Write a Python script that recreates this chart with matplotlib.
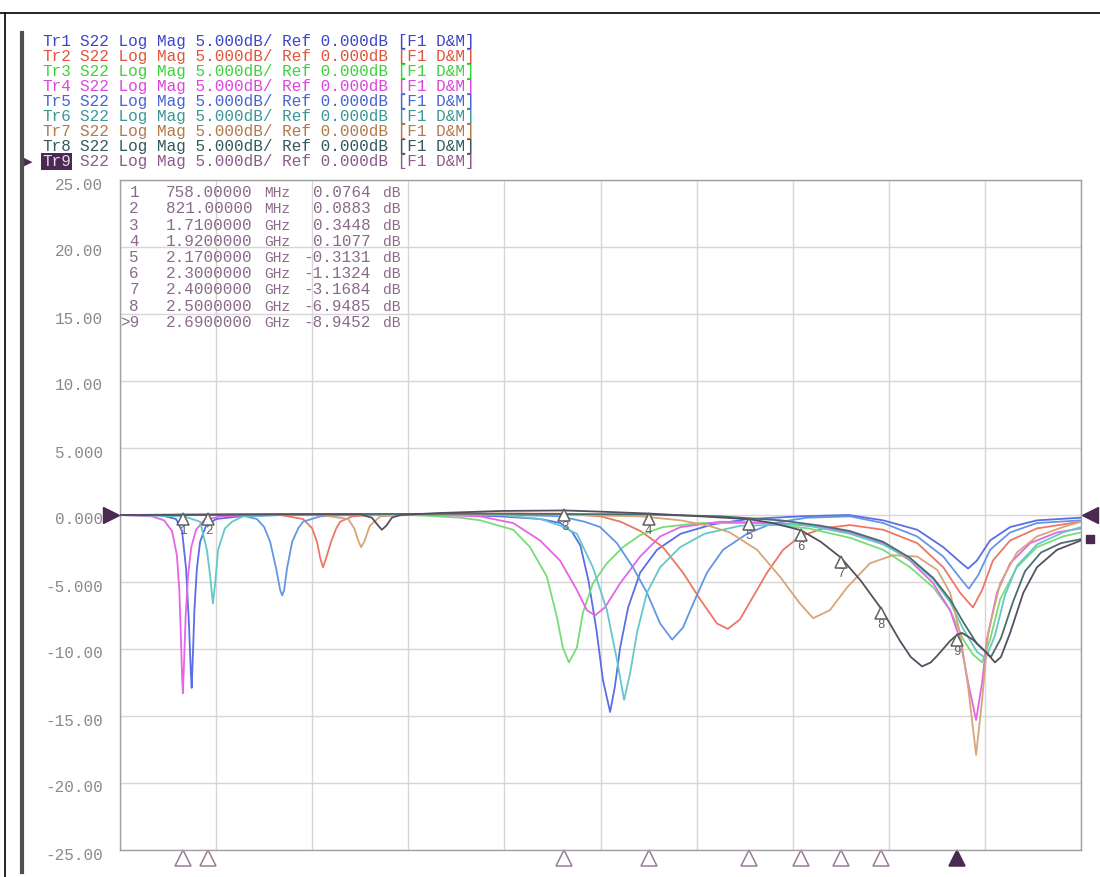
import matplotlib
matplotlib.use("Agg")
import matplotlib.pyplot as plt
import matplotlib.transforms as mtransforms
from matplotlib.lines import Line2D

W, H = 1100, 877

# ---- data (GHz, dB) ----
tr1 = [(0.60, 0.0), (0.70, 0.0), (0.74, -0.3), (0.755, -1.2), (0.765, -4.0), (0.772, -8.0),
       (0.777, -11.8), (0.779, -12.9), (0.782, -10.5), (0.786, -7.0), (0.792, -4.0), (0.80, -2.0),
       (0.815, -0.8), (0.84, -0.3), (0.90, -0.1), (1.0, 0.0), (1.2, 0.05), (1.4, 0.05), (1.55, -0.1),
       (1.65, -0.3), (1.70, -0.6), (1.73, -1.3), (1.75, -2.3), (1.77, -4.9), (1.79, -8.6),
       (1.806, -12.3), (1.824, -14.7), (1.836, -12.8), (1.849, -9.9), (1.869, -6.9), (1.899, -4.3),
       (1.941, -2.6), (2.0, -1.4), (2.08, -0.7), (2.17, -0.3), (2.3, -0.1), (2.42, 0.0),
       (2.506, -0.4), (2.591, -1.1), (2.656, -2.4), (2.698, -3.5), (2.718, -4.0), (2.740, -3.4),
       (2.773, -1.9), (2.823, -0.9), (2.89, -0.4), (3.0, -0.2)]

tr2 = [(0.60, 0.0), (1.0, 0.0), (1.057, -0.3), (1.08, -1.0), (1.092, -2.0), (1.100, -3.2),
       (1.107, -3.9), (1.115, -3.2), (1.127, -2.0), (1.14, -1.0), (1.15, -0.5), (1.18, -0.1),
       (1.25, 0.05), (1.5, 0.1), (1.7, 0.1), (1.80, -0.1), (1.85, -0.5), (1.90, -1.2), (1.956, -2.4),
       (2.006, -4.3), (2.049, -6.3), (2.091, -8.1), (2.118, -8.5), (2.148, -7.8), (2.181, -6.1),
       (2.216, -4.3), (2.256, -2.6), (2.298, -1.6), (2.356, -1.0), (2.423, -0.75), (2.506, -1.1),
       (2.591, -2.1), (2.656, -3.9), (2.698, -5.8), (2.730, -6.9), (2.753, -5.6), (2.780, -3.4),
       (2.823, -1.9), (2.89, -1.0), (3.0, -0.5)]

tr3 = [(0.60, 0.0), (1.0, 0.05), (1.3, 0.05), (1.45, -0.2), (1.50, -0.4), (1.582, -1.1),
       (1.624, -2.4), (1.666, -4.6), (1.691, -7.6), (1.706, -9.9), (1.721, -11.0), (1.741, -9.9),
       (1.756, -7.3), (1.781, -5.1), (1.816, -3.6), (1.856, -2.4), (1.899, -1.5), (1.956, -0.9),
       (2.05, -0.6), (2.2, -0.6), (2.32, -1.0), (2.423, -1.7), (2.506, -2.6), (2.573, -3.9),
       (2.631, -5.4), (2.673, -7.1), (2.706, -9.3), (2.730, -10.4), (2.753, -11.0), (2.773, -9.3),
       (2.798, -6.3), (2.840, -3.9), (2.890, -2.4), (2.955, -1.6), (3.0, -1.3)]

tr4 = [(0.60, 0.0), (0.68, -0.1), (0.71, -0.4), (0.73, -1.2), (0.742, -3.0), (0.748, -5.5),
       (0.752, -9.0), (0.755, -12.0), (0.757, -13.3), (0.760, -11.0), (0.764, -7.5), (0.770, -4.5),
       (0.778, -2.4), (0.79, -1.1), (0.81, -0.4), (0.85, -0.1), (0.95, 0.0), (1.2, 0.05), (1.4, 0.0),
       (1.499, -0.1), (1.582, -0.6), (1.649, -1.9), (1.699, -3.4), (1.741, -5.6), (1.766, -7.1),
       (1.786, -7.5), (1.811, -6.9), (1.849, -5.1), (1.899, -3.1), (1.949, -1.6), (2.0, -0.9),
       (2.1, -0.5), (2.25, -0.6), (2.35, -0.9), (2.423, -1.3), (2.506, -2.1), (2.573, -3.4),
       (2.631, -5.1), (2.673, -7.1), (2.698, -9.3), (2.718, -12.5), (2.738, -15.3), (2.753, -12.5),
       (2.765, -9.3), (2.790, -5.8), (2.823, -3.6), (2.873, -2.1), (2.94, -1.3), (3.0, -1.0)]

tr5 = [(0.60, 0.0), (0.90, 0.0), (0.942, -0.3), (0.96, -0.9), (0.975, -2.0), (0.99, -4.0),
       (1.0, -5.6), (1.005, -6.0), (1.010, -5.6), (1.017, -4.0), (1.03, -2.0), (1.045, -1.0),
       (1.057, -0.5), (1.10, -0.1), (1.2, 0.05), (1.5, 0.1), (1.7, -0.1), (1.76, -0.5), (1.799, -0.9),
       (1.841, -2.1), (1.881, -3.9), (1.916, -5.8), (1.949, -8.1), (1.979, -9.3), (2.006, -8.4),
       (2.036, -6.3), (2.066, -4.3), (2.106, -2.6), (2.166, -1.4), (2.231, -0.6), (2.316, -0.2),
       (2.423, -0.1), (2.506, -0.6), (2.591, -1.6), (2.656, -3.1), (2.698, -4.7), (2.720, -5.5),
       (2.743, -4.5), (2.773, -2.6), (2.823, -1.3), (2.89, -0.6), (3.0, -0.4)]

tr6 = [(0.60, 0.0), (0.76, -0.1), (0.80, -0.5), (0.817, -2.6), (0.825, -4.5), (0.832, -6.6),
       (0.838, -5.0), (0.845, -2.6), (0.862, -1.0), (0.88, -0.5), (0.907, -0.1), (1.0, 0.0),
       (1.3, 0.05), (1.55, 0.0), (1.65, -0.3), (1.70, -0.8), (1.741, -1.4), (1.781, -3.9),
       (1.816, -7.1), (1.841, -10.8), (1.859, -13.8), (1.874, -11.8), (1.891, -8.8), (1.916, -5.8),
       (1.949, -3.9), (1.999, -2.4), (2.06, -1.4), (2.15, -0.8), (2.30, -0.7), (2.423, -1.4),
       (2.506, -2.2), (2.573, -3.3), (2.631, -4.8), (2.673, -6.5), (2.706, -8.5), (2.740, -10.2),
       (2.762, -10.7), (2.785, -9.0), (2.81, -6.0), (2.84, -3.8), (2.89, -2.2), (2.955, -1.3),
       (3.0, -0.9)]

tr7 = [(0.60, 0.0), (1.1, 0.0), (1.17, -0.3), (1.185, -1.0), (1.195, -1.9), (1.202, -2.4),
       (1.21, -2.0), (1.224, -0.8), (1.25, -0.1), (1.35, 0.05), (1.6, 0.1), (1.9, -0.1), (2.0, -0.4),
       (2.07, -0.8), (2.123, -1.3), (2.191, -2.6), (2.248, -4.6), (2.298, -6.6), (2.331, -7.7),
       (2.373, -7.1), (2.416, -5.4), (2.473, -3.6), (2.531, -3.0), (2.591, -3.1), (2.641, -4.1),
       (2.673, -5.8), (2.698, -8.8), (2.718, -12.8), (2.738, -17.9), (2.753, -13.8), (2.768, -8.8),
       (2.798, -5.1), (2.840, -2.8), (2.890, -1.6), (2.955, -0.9), (3.0, -0.5)]

tr8 = [(0.60, 0.0), (1.0, 0.05), (1.5, 0.1), (1.9, 0.05), (2.1, -0.1), (2.25, -0.4), (2.35, -0.8),
       (2.423, -1.2), (2.506, -2.0), (2.573, -3.2), (2.631, -4.7), (2.673, -6.3), (2.706, -8.0),
       (2.74, -9.6), (2.775, -10.6), (2.80, -9.2), (2.83, -6.5), (2.86, -4.2), (2.90, -2.8),
       (2.95, -2.1), (3.0, -1.8)]

tr9 = [(0.60, 0.0), (1.0, 0.05), (1.20, 0.05), (1.229, -0.2), (1.245, -0.8), (1.254, -1.1),
       (1.265, -0.8), (1.279, -0.2), (1.30, 0.0), (1.40, 0.15), (1.55, 0.3), (1.71, 0.34),
       (1.80, 0.25), (1.92, 0.11), (2.05, -0.1), (2.17, -0.31), (2.23, -0.6), (2.30, -1.13),
       (2.35, -2.0), (2.40, -3.17), (2.45, -4.9), (2.50, -6.95), (2.548, -9.4), (2.575, -10.6),
       (2.603, -11.3), (2.625, -11.0), (2.641, -10.5), (2.673, -9.4), (2.69, -8.95), (2.703, -8.8),
       (2.730, -9.3), (2.765, -10.3), (2.785, -11.0), (2.80, -10.6), (2.823, -8.8), (2.856, -5.8),
       (2.890, -3.9), (2.94, -2.6), (3.0, -1.9)]

traces = [tr1, tr2, tr3, tr4, tr5, tr6, tr7, tr8, tr9]
trace_names = ["Tr1", "Tr2", "Tr3", "Tr4", "Tr5", "Tr6", "Tr7", "Tr8", "Tr9"]
header_rest = "S22 Log Mag 5.000dB/ Ref 0.000dB [F1 D&M]"
legend_colors = ["#3c46c8", "#e0553c", "#3cd23c", "#dc46dc", "#4664d2",
                 "#3c9696", "#b4784a", "#325a5a", "#8c5a8c"]
line_colors = ["#5a6ee6", "#ec7864", "#78dc78", "#e664e6", "#6496e6",
               "#64c8c8", "#d7a578", "#4a6e6e", "#555060"]

marker_freqs = [0.758, 0.821, 1.71, 1.92, 2.17, 2.30, 2.40, 2.50, 2.69]
marker_vals = [0.0764, 0.0883, 0.3448, 0.1077, -0.3131, -1.1324, -3.1684, -6.9485, -8.9452]

y_ticks = [25, 20, 15, 10, 5, 0, -5, -10, -15, -20, -25]
y_tick_labels = ["25.00", "20.00", "15.00", "10.00", "5.000", "0.000",
                 "-5.000", "-10.00", "-15.00", "-20.00", "-25.00"]
x_grid = [0.60, 0.84, 1.08, 1.32, 1.56, 1.80, 2.04, 2.28, 2.52, 2.76, 3.00]
f_start, f_stop = 0.6, 3.0

MONO = ["Liberation Mono", "DejaVu Sans Mono", "DejaVu Sans"]
FS = 11.5
CHAR_W = 0.6 * FS * 100 / 72   # px per monospace character


def fx(x):
    return x / W


def fy(y):
    return 1 - y / H


fig = plt.figure(figsize=(W / 100, H / 100), dpi=100)
fig.patch.set_facecolor("white")

# outer frame of the screenshot
fig.add_artist(Line2D([0, 1], [fy(13), fy(13)], color="black", lw=1.2))
fig.add_artist(Line2D([fx(5), fx(5)], [fy(13), 0], color="black", lw=1.2))
fig.add_artist(Line2D([fx(22), fx(22)], [fy(33), fy(872)], color="#505050", lw=3))

ax = fig.add_axes([fx(120), fy(850), fx(1081) - fx(120), fy(180) - fy(850)])
ax.set_xlim(f_start, f_stop)
ax.set_ylim(-25, 25)
ax.set_xticks(x_grid)
ax.set_yticks(y_ticks)
ax.grid(True, color="#d6d6d6", lw=1.0)
ax.tick_params(length=0, labelbottom=False, labelleft=False)
for s in ax.spines.values():
    s.set_color("#a0a0a0")
    s.set_linewidth(1.0)

for tr, col in zip(traces, line_colors):
    ax.plot([p[0] for p in tr], [p[1] for p in tr], color=col, lw=1.3, zorder=3)

# y labels, sitting a little under their grid line
ylab_tr = mtransforms.blended_transform_factory(ax.transAxes, ax.transData)
ylab_tr = ylab_tr + mtransforms.ScaledTranslation(0, -5 / 100, fig.dpi_scale_trans)
for v, lab in zip(y_ticks, y_tick_labels):
    ax.text(-0.018, v, lab, transform=ylab_tr, ha="right", va="center",
            fontsize=FS, color="#8a8a8a", family=MONO, clip_on=False)

# markers on the active trace
tip = ax.transData + mtransforms.ScaledTranslation(0, -5 / 100, fig.dpi_scale_trans)
num = ax.transData + mtransforms.ScaledTranslation(0, -17 / 100, fig.dpi_scale_trans)
for i, (f, v) in enumerate(zip(marker_freqs, marker_vals)):
    ax.plot(f, v, marker="^", ms=9, mfc="white", mec="#606060", mew=1.1,
            transform=tip, zorder=5)
    ax.text(f, v, str(i + 1), transform=num, ha="center", va="center",
            fontsize=9, color="#606060", family=MONO, zorder=5)

# stimulus markers below the grid
bot = mtransforms.blended_transform_factory(ax.transData, ax.transAxes)
for i, f in enumerate(marker_freqs):
    active = i == len(marker_freqs) - 1
    ax.plot(f, -0.012, marker="^", ms=11, mfc="#4a2a50" if active else "white",
            mec="#4a2a50" if active else "#9a7a9a", mew=1.1, transform=bot, clip_on=False)

# reference position arrows
side = mtransforms.blended_transform_factory(ax.transAxes, ax.transData)
ax.plot(-0.009, 0, marker=">", ms=12, color="#4a2a50", transform=side, clip_on=False)
ax.plot(1.009, 0, marker="<", ms=12, color="#4a2a50", transform=side, clip_on=False)
ax.plot(1.009, -1.8, marker="s", ms=6, color="#4a2a50", transform=side, clip_on=False)

# trace header lines (baseline aligned so name and rest share one line)
for i, (name, col) in enumerate(zip(trace_names, legend_colors)):
    yb = 46 + 15 * i
    active = i == len(trace_names) - 1
    if active:
        fig.text(fx(42), fy(yb), name, color="#e8d8e8", fontsize=FS, family=MONO,
                 va="baseline", ha="left",
                 bbox=dict(boxstyle="square,pad=0.08", fc="#4a2a55", ec="none"))
        fig.text(fx(24), fy(yb - 4), "\u25b6", color="#4a2a55", fontsize=8,
                 family=["DejaVu Sans"], va="center", ha="left")
    else:
        fig.text(fx(42), fy(yb), name, color=col, fontsize=FS, family=MONO,
                 va="baseline", ha="left")
    fig.text(fx(42 + 4 * CHAR_W), fy(yb), header_rest, color=col, fontsize=FS,
             family=MONO, va="baseline", ha="left")

# marker readout table
for i, (f, v) in enumerate(zip(marker_freqs, marker_vals)):
    yb = 197 + 16.25 * i
    tag = ">9" if i == len(marker_freqs) - 1 else str(i + 1)
    if f < 1:
        fstr, unit = f"{f * 1000:.5f}", "MHz"
    else:
        fstr, unit = f"{f:.7f}", "GHz"
    tc = "#8a6a8a"
    kw = dict(va="baseline", family=MONO, color=tc)
    fig.text(fx(139), fy(yb), tag, ha="right", fontsize=FS, **kw)
    fig.text(fx(166), fy(yb), fstr, ha="left", fontsize=FS, **kw)
    fig.text(fx(264), fy(yb), unit, ha="left", fontsize=10.5, **kw)
    fig.text(fx(371), fy(yb), f"{v:.4f}", ha="right", fontsize=FS, **kw)
    fig.text(fx(383), fy(yb), "dB", ha="left", fontsize=10.5, **kw)

fig.savefig("out.png", dpi=100)
